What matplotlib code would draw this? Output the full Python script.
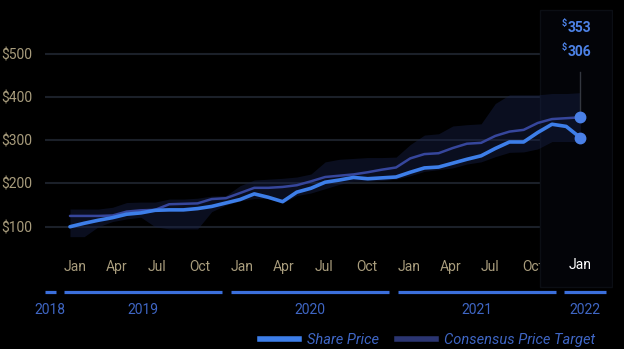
"""Share price vs consensus price target, dark theme."""

import matplotlib
matplotlib.use('Agg')
import matplotlib.pyplot as plt
from matplotlib.lines import Line2D
from matplotlib.patches import Rectangle
import numpy as np

plt.rcParams['font.family'] = ['Roboto', 'DejaVu Sans']

# monthly samples, Jan 2019 .. Jan 2022
month_idx = np.arange(37)
share_price = [100, 108, 115, 121, 129, 132, 138, 139, 139, 142, 147, 155,
               163, 176, 168, 158, 180, 189, 203, 208, 214, 211, 213, 215,
               226, 236, 238, 247, 256, 264, 281, 296, 296, 318, 337, 332, 306]
price_target = [125, 125, 125, 126, 135, 138, 139, 152, 153, 154, 164, 166,
                178, 190, 190, 192, 196, 205, 215, 218, 221, 226, 232, 237,
                258, 268, 270, 282, 292, 294, 310, 320, 324, 340, 349, 351, 353]
target_high = [141, 141, 141, 145, 156, 157, 157, 164, 164, 166, 171, 172,
               195, 208, 210, 212, 215, 222, 250, 256, 258, 260, 260, 261,
               290, 312, 315, 333, 336, 338, 385, 405, 405, 405, 408, 408, 410]
target_low = [77, 77, 100, 112, 118, 122, 100, 95, 95, 95, 135, 150,
              160, 165, 165, 155, 172, 178, 188, 198, 205, 205, 207, 210,
              218, 228, 232, 236, 245, 250, 262, 272, 273, 280, 297, 297, 297]

quarter_names = ['Jan', 'Apr', 'Jul', 'Oct']
quarter_years = [2019, 2020, 2021]
year_labels = ['2018', '2019', '2020', '2021', '2022']
y_ticks = [100, 200, 300, 400, 500]

BG = '#000000'
GRID = '#1b2029'
MUTED = '#a89c7c'
BLUE = '#3d7ee9'
NAVY = '#36469c'
BAND = '#18224a'
YEAR_BLUE = '#3f66c4'


def main():
    fig = plt.figure(figsize=(6.24, 3.49), dpi=100, facecolor=BG)
    ax = fig.add_axes([45 / 624, 0, 568 / 624, 1])
    ax.set_facecolor(BG)
    for sp in ax.spines.values():
        sp.set_visible(False)

    # x in calendar months from Jan 1 2019
    ax.set_xlim(-1.367, 39.5)
    ax.set_ylim(-182.7, 624.3)
    x = 0.43 + month_idx * 1.02

    for v in y_ticks:
        ax.axhline(v, color=GRID, lw=1.5, zorder=1)
    ax.set_yticks(y_ticks)
    ax.set_yticklabels(['$' + str(v) for v in y_ticks])
    ax.tick_params(axis='y', length=0, pad=9.4, labelsize=10, labelcolor=MUTED)
    ax.set_xticks([])

    # hover panel
    ax.add_patch(Rectangle((34.28, -39.3), 39.4 - 34.28, 601.2 + 39.3,
                           facecolor='#030408', edgecolor='#0b0e14', lw=1, zorder=1.5))

    ax.fill_between(x, target_low, target_high, color=BAND, alpha=0.42, lw=0, zorder=2)
    ax.plot(x, price_target, color=NAVY, lw=1.8, zorder=3, solid_capstyle='round')
    ax.plot(x, share_price, color=BLUE, lw=2.6, zorder=3.2, solid_capstyle='round')

    # hover marker
    ax.plot([x[-1], x[-1]], [price_target[-1], 457.8], color='#33373f', lw=1, zorder=2.5)
    ax.plot([x[-1]] * 2, [price_target[-1], share_price[-1]], 'o', color='#4a80e6',
            ms=7.5, zorder=4, clip_on=False)
    for val, yv in ((price_target[-1], 559.5), (share_price[-1], 504)):
        ax.text(36.26, yv, str(val), color='#4d82e6', fontsize=10, fontweight='bold',
                ha='left', va='center', zorder=5)
        ax.text(36.2, yv + 11, '$', color='#4d82e6', fontsize=6.5, fontweight='bold',
                ha='right', va='center', zorder=5)

    # month labels
    for k, yr in enumerate(quarter_years):
        for q, name in enumerate(quarter_names):
            ax.text(12 * k + 3 * q, 6.9, name, color=MUTED, fontsize=10,
                    ha='left', va='center', zorder=1.2)
    ax.text(x[-1], 12, 'Jan', color='white', fontsize=10, ha='center', va='center', zorder=5)

    # year bars
    starts = [-1.367, 0, 12, 24, 36]
    ends = [-0.6, 11.37, 23.37, 35.37, 38.99]
    for s, e, lab in zip(starts, ends, year_labels):
        ax.plot([s, e], [-50.9, -50.9], color='#3b6fdc', lw=2.3, solid_capstyle='butt',
                clip_on=False, zorder=3)
        ax.text((s + e) / 2, -92.5, lab, color=YEAR_BLUE, fontsize=10,
                ha='center', va='center')

    handles = [Line2D([], [], color=BLUE, lw=4),
               Line2D([], [], color='#2b3572', lw=4)]
    fig.legend(handles, ['Share Price', 'Consensus Price Target'], loc='center',
               bbox_to_anchor=(0.685, 0.026), ncol=2, frameon=False,
               prop={'style': 'italic', 'size': 10.5}, labelcolor=YEAR_BLUE,
               handlelength=2.7, handletextpad=0.55, columnspacing=1.2,
               borderpad=0, borderaxespad=0)

    fig.savefig('out.png', dpi=100, facecolor=BG)


if __name__ == '__main__':
    main()
